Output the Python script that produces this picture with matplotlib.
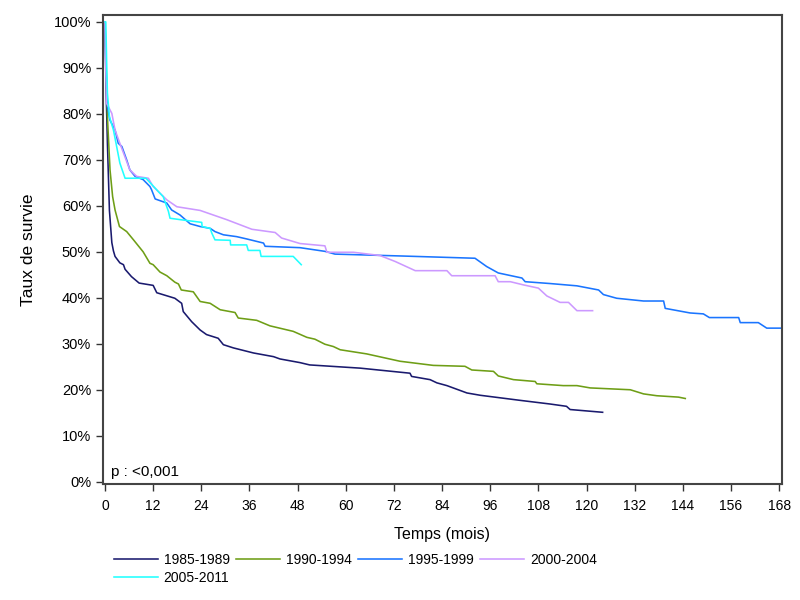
import matplotlib
matplotlib.use("Agg")
import matplotlib.pyplot as plt
from matplotlib import font_manager as fm
from matplotlib.ticker import FuncFormatter

plt.rcParams['font.family'] = ['Liberation Sans', 'DejaVu Sans']
_names = {f.name for f in fm.fontManager.ttflist}
if 'Liberation Sans Narrow' in _names:
    NARROW = ['Liberation Sans Narrow', 'Liberation Sans', 'DejaVu Sans']
    XT_SIZE, XL_SIZE, LEG_SIZE = 11.5, 12.5, 11
else:
    NARROW = ['Liberation Sans', 'DejaVu Sans']
    XT_SIZE, XL_SIZE, LEG_SIZE = 10, 11.5, 10

labels = ["1985-1989", "1990-1994", "1995-1999", "2000-2004", "2005-2011"]
colors = ["#1a1a6e", "#6e9e16", "#1a75ff", "#cc99ff", "#22ffff"]

t_8589 = [0, 0.25, 0.6, 1.1, 1.7, 2.1, 2.5, 3.7, 4.6, 5.0, 6.6, 8.5, 12, 12.9, 17.4, 19.1, 19.5,
          21.6, 23.7, 25.3, 28.2, 29.5, 32, 37, 42, 43.6, 48.6, 51, 63.6, 76, 76.4, 81, 82.7,
          85.2, 90.2, 93.5, 103.4, 110.9, 115, 115.9, 124]
s_8589 = [100, 86, 73.6, 59, 52, 50.2, 49, 47.6, 47.2, 46.2, 44.6, 43.2, 42.7, 41.1, 39.9, 38.8, 37,
          34.8, 33, 32, 31.2, 29.8, 29.1, 28, 27.2, 26.7, 25.9, 25.4, 24.7, 23.6, 22.9, 22.2, 21.5,
          20.9, 19.3, 18.8, 17.7, 16.9, 16.4, 15.7, 15.1]

t_9094 = [0, 0.3, 0.6, 1.25, 1.9, 2.5, 3.6, 5.4, 7.1, 9.5, 11.2, 12, 13.7, 15.4, 17.4, 18.3, 19,
          22, 23.7, 26.2, 28.7, 32.4, 33.2, 37.8, 41.1, 46.9, 50.3, 52.3, 54.8, 56.9, 58.6, 65.2,
          73.5, 81.8, 89.7, 91.4, 96.8, 98, 101.8, 107.2, 107.6, 114.2, 117.6, 120.9, 130.9,
          134.2, 137.5, 142.9, 144.6]
s_9094 = [100, 90, 79.4, 67.8, 62, 59.1, 55.5, 54.4, 52.6, 50, 47.5, 47.2, 45.6, 44.8, 43.4, 43, 41.7,
          41.3, 39.2, 38.8, 37.4, 36.8, 35.6, 35.1, 33.9, 32.7, 31.4, 31, 29.9, 29.4, 28.7, 27.8,
          26.2, 25.3, 25.1, 24.3, 24, 23, 22.2, 21.8, 21.3, 20.9, 20.9, 20.4, 20,
          19.1, 18.7, 18.4, 18.1]

t_9599 = [0, 0.2, 0.6, 1.2, 2.5, 3.3, 4.2, 5.4, 6.2, 7.5, 9.5, 11.2, 11.6, 12.5, 15.4, 16.6, 18.7,
          21.2, 23.7, 26.2, 27.4, 29.5, 32.8, 35.3, 39.5, 39.9, 48.6, 54.8, 57.3, 73.5, 92.2,
          95.1, 98, 103.9, 104.7, 110.9, 117.6, 123, 124.2, 127.5, 134.2, 139.2, 139.6, 145.8,
          149.1, 150.6, 157.9, 158.3, 162.8, 164.9, 170]
s_9599 = [100, 91, 81.6, 78.7, 76.5, 73.6, 72.9, 70, 67.8, 66.4, 65.7, 64.2, 63.5, 61.5, 60.6, 59.1, 58,
          56.1, 55.5, 55.1, 54.4, 53.7, 53.3, 52.8, 51.9, 51.2, 50.9, 50.1, 49.5, 49.1, 48.6,
          46.8, 45.4, 44.3, 43.5, 43.1, 42.6, 41.7, 40.7, 39.9, 39.3, 39.3, 37.7, 36.7,
          36.5, 35.7, 35.7, 34.6, 34.6, 33.4, 33.4]

t_0004 = [0, 0.2, 0.4, 1.7, 2.5, 3.7, 4.6, 6.2, 7.9, 10.8, 12, 15.4, 17.9, 23.7, 30.3, 36.6, 42.4,
          44, 48.6, 54.8, 55.3, 61.9, 68.5, 72.3, 77.3, 85.2, 86.4, 97.2, 98, 101, 104.3, 108,
          110.1, 113.4, 115.5, 117.6, 121.5]
s_0004 = [100, 90, 82.3, 80.1, 76.5, 73.6, 71.5, 67.8, 66.4, 66, 64.2, 61.3, 59.8, 59, 57, 54.9, 54.2,
          53, 51.8, 51.3, 49.9, 49.9, 49.2, 47.9, 45.9, 45.9, 44.8, 44.8, 43.5, 43.5, 42.8, 42.1,
          40.4, 39, 39, 37.2, 37.2]

t_0511 = [0, 0.2, 0.4, 0.6, 1.1, 2.1, 2.9, 3.7, 5.0, 10.2, 13.3, 14.5, 15.8, 16.2, 18.7, 24.1, 24.2,
          26.2, 26.6, 27.4, 31.2, 31.3, 35.3, 35.7, 38.6, 38.9, 46.9, 48.9]
s_0511 = [100, 100, 91.7, 84.5, 79.4, 76.5, 72.9, 69.3, 66, 66, 63.1, 62, 58.8, 57.3, 57, 56.4, 55.5,
          55.1, 54.1, 52.6, 52.5, 51.5, 51.5, 50.3, 50.3, 49, 49, 47.2]

series_t = [t_8589, t_9094, t_9599, t_0004, t_0511]
series_s = [s_8589, s_9094, s_9599, s_0004, s_0511]

x_ticks = list(range(0, 169, 12))
y_ticks = list(range(0, 101, 10))

fig = plt.figure(figsize=(8, 6), dpi=100)
ax = fig.add_axes([0.12875, 0.1933, 0.84875, 0.7817])

handles = []
for t, s, c, lab in zip(series_t, series_s, colors, labels):
    h, = ax.plot(t, [v / 100 for v in s], color=c, lw=1.15, label=lab)
    handles.append(h)

ax.set_xlim(-0.5, 168.7)
ax.set_ylim(-0.005, 1.015)
ax.set_xticks(x_ticks)
ax.set_yticks([v / 100 for v in y_ticks])
ax.yaxis.set_major_formatter(FuncFormatter(lambda v, p: f"{round(v*100)}%"))
ax.tick_params(direction='out', length=5, width=1, colors='#333333', labelcolor='black')
ax.tick_params(axis='y', labelsize=10.5)
ax.tick_params(axis='x', labelsize=XT_SIZE, pad=6)
for lbl in ax.get_xticklabels():
    lbl.set_family(NARROW)
for sp in ax.spines.values():
    sp.set_linewidth(1.5)
    sp.set_color('#444444')

ax.set_xlabel("Temps (mois)", fontsize=XL_SIZE, labelpad=10, family=NARROW)
ax.set_ylabel("Taux de survie", fontsize=12.5, labelpad=13)

ax.text(0.012, 0.01, "p : <0,001", transform=ax.transAxes, fontsize=11, va='bottom', ha='left')

order = [0, 4, 1, 2, 3]
leg = fig.legend([handles[i] for i in order], [labels[i] for i in order],
                 loc='lower center', bbox_to_anchor=(0.444, 0.005), ncol=4, frameon=False,
                 prop={'family': NARROW, 'size': LEG_SIZE}, handlelength=3.2, columnspacing=0.45,
                 handletextpad=0.4, labelspacing=0.25)

fig.savefig("out.png", dpi=100)
